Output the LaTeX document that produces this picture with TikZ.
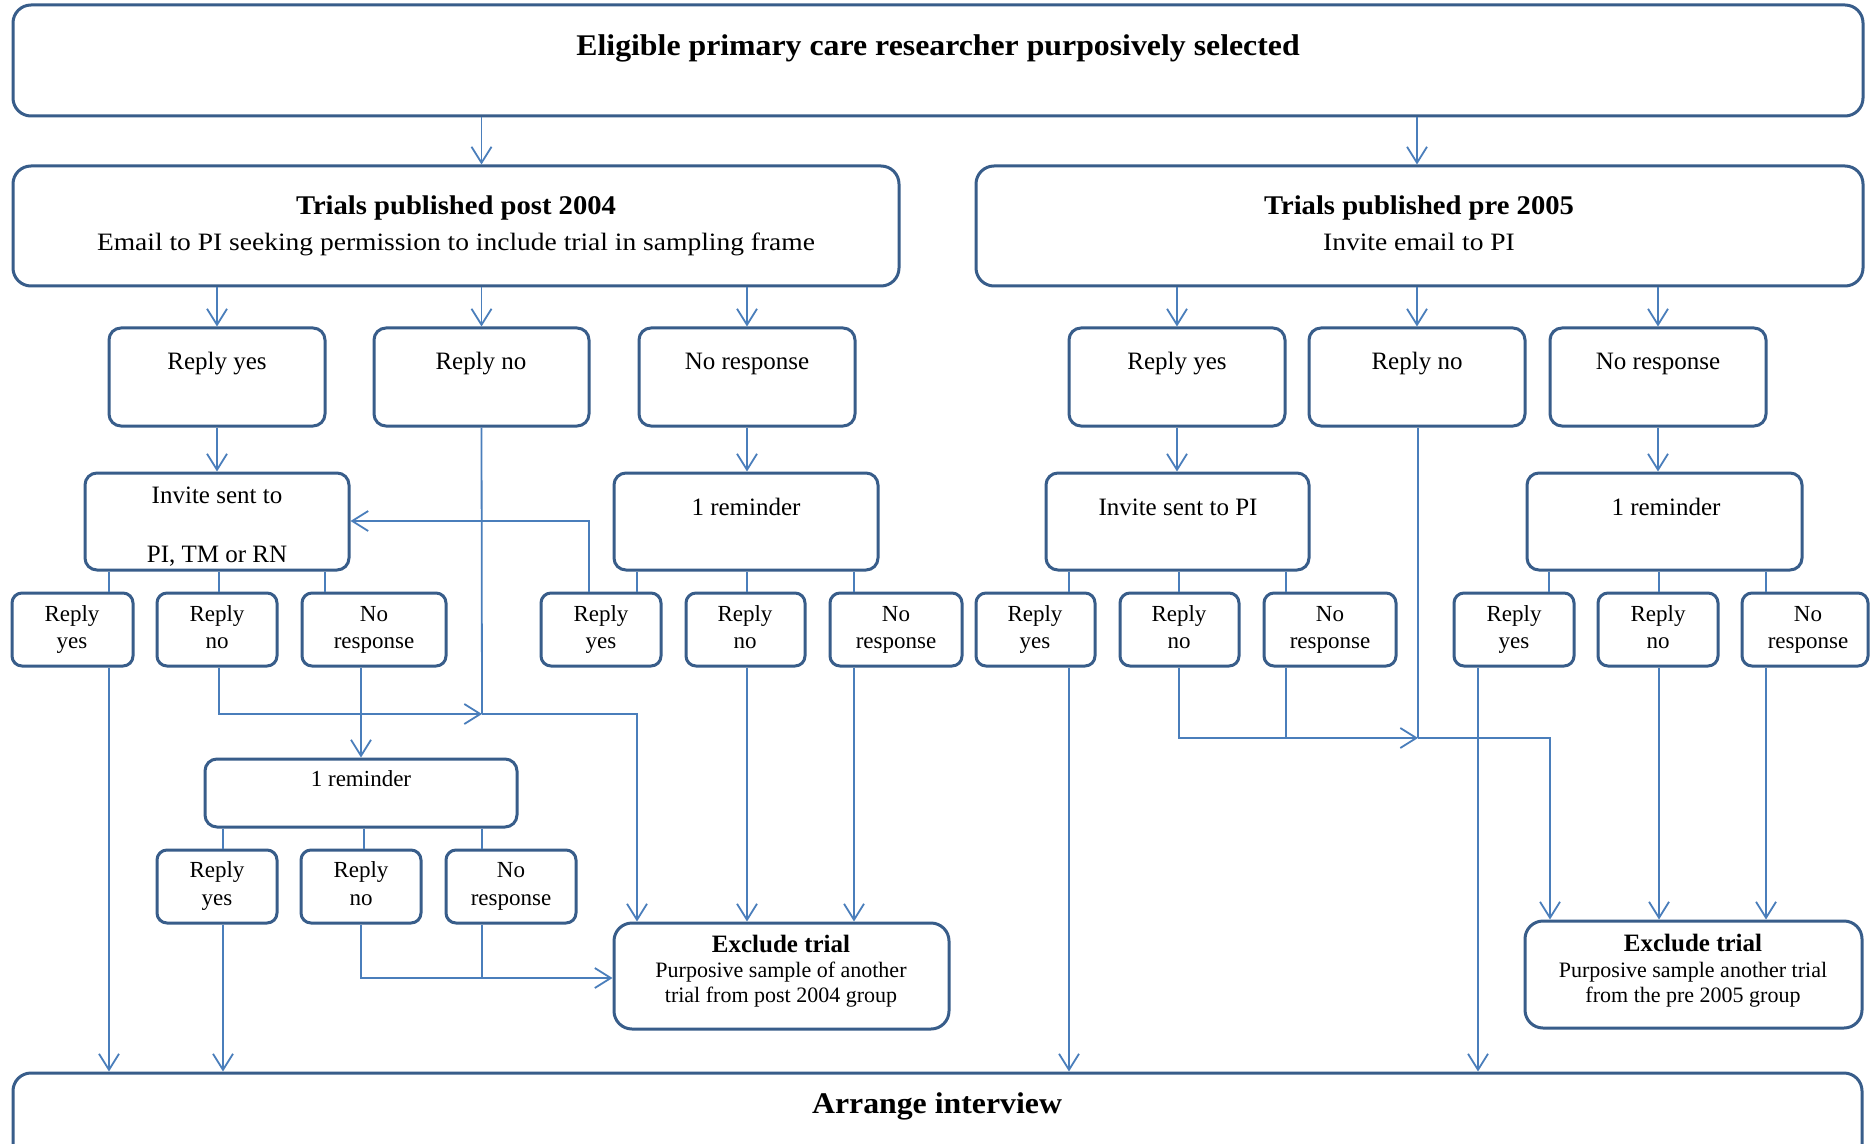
\documentclass[tikz,border=0pt]{standalone}
\usepackage{fontspec}
\setmainfont{Liberation Serif}
\newfontfamily\subfont{Liberation Serif}[FakeStretch=1.1]
\newfontfamily\headfont{Liberation Serif}[FakeStretch=1.06]
\usetikzlibrary{arrows.meta}
\definecolor{boxc}{HTML}{385D8A}
\definecolor{linec}{HTML}{4A7EBB}
\newcommand{\mkbox}[6]{\node[#6, minimum width={((#4)-(#2))*0.5pt}, minimum height={((#5)-(#3))*0.5pt}] (#1) at ({((#2)+(#4))/2},{((#3)+(#5))/2}) {};}
\newcommand{\mktxt}[5]{\node[txt, font=#4] (#1) at (#2,#3) {#5};}
\newcommand{\fbig}{\headfont\fontsize{15}{18}\selectfont\bfseries}
\newcommand{\fhead}{\headfont\fontsize{13.5}{16}\selectfont\bfseries}
\newcommand{\fsub}{\subfont\fontsize{12.5}{15}\selectfont}
\newcommand{\fmid}{\fontsize{12.5}{15}\selectfont}
\newcommand{\fsml}{\fontsize{11.5}{14}\selectfont}
\newcommand{\fexh}{\fontsize{12.5}{15}\selectfont\bfseries}
\newcommand{\fexb}{\fontsize{11}{13}\selectfont}
\tikzset{
  bigbox/.style={draw=boxc, line width=1.5pt, rounded corners=9pt, inner sep=0pt},
  midbox/.style={bigbox, rounded corners=6pt},
  smallbox/.style={bigbox, rounded corners=5pt},
  txt/.style={anchor=base, inner sep=0pt},
  conn/.style={draw=linec, line width=0.9pt},
  arr/.style={conn, -{Straight Barb[length=8pt,width=10pt]}}
}
\begin{document}
\begin{tikzpicture}[x=0.5pt,y=-0.5pt]
\useasboundingbox[fill=white] (0,0) rectangle (1872,1144);
% column coordinates
\foreach \c in {109,219,223,325,361,364,482,589,637,747,854,1069,1179,1286,1418,1478,1549,1550,1659,1766}
  {\coordinate (c\c) at (\c,0);}
\coordinate (j1) at (482,714);
\coordinate (j3) at (482,978);
\coordinate (j4) at (1418,738);
\coordinate (r1) at (589,521);
\coordinate (y978) at (0,978);
% boxes
\mkbox{T}{13}{5}{1863}{116}{bigbox}
\mkbox{P}{13}{166}{899}{286}{bigbox}
\mkbox{R}{976}{166}{1863}{286}{bigbox}
\mkbox{PY}{109}{328}{325}{426}{midbox}
\mkbox{PN}{374}{328}{589}{426}{midbox}
\mkbox{PNR}{639}{328}{855}{426}{midbox}
\mkbox{RY}{1069}{328}{1285}{426}{midbox}
\mkbox{RN}{1309}{328}{1525}{426}{midbox}
\mkbox{RNR}{1550}{328}{1766}{426}{midbox}
\mkbox{PInv}{85}{473}{349}{570}{midbox}
\mkbox{PRem}{614}{473}{878}{570}{midbox}
\mkbox{RInv}{1046}{473}{1309}{570}{midbox}
\mkbox{RRem}{1527}{473}{1802}{570}{midbox}
\mkbox{s1}{12}{593}{133}{666}{smallbox}
\mkbox{s2}{157}{593}{277}{666}{smallbox}
\mkbox{s3}{302}{593}{446}{666}{smallbox}
\mkbox{s4}{541}{593}{661}{666}{smallbox}
\mkbox{s5}{686}{593}{805}{666}{smallbox}
\mkbox{s6}{830}{593}{962}{666}{smallbox}
\mkbox{s7}{976}{593}{1095}{666}{smallbox}
\mkbox{s8}{1120}{593}{1239}{666}{smallbox}
\mkbox{s9}{1264}{593}{1396}{666}{smallbox}
\mkbox{s10}{1454}{593}{1574}{666}{smallbox}
\mkbox{s11}{1598}{593}{1718}{666}{smallbox}
\mkbox{s12}{1742}{593}{1868}{666}{smallbox}
\mkbox{LRem}{205}{759}{517}{827}{midbox}
\mkbox{t1}{157}{850}{277}{923}{smallbox}
\mkbox{t2}{301}{850}{421}{923}{smallbox}
\mkbox{t3}{446}{850}{576}{923}{smallbox}
\mkbox{PEx}{614}{923}{949}{1029}{bigbox}
\mkbox{REx}{1525}{921}{1862}{1028}{bigbox}
\mkbox{Arr}{13}{1073}{1862}{1200}{bigbox}
% texts
\mktxt{Tt}{938}{56}{\fbig}{Eligible primary care researcher purposively selected}
\mktxt{Pt1}{456}{215}{\fhead}{Trials published post 2004}
\mktxt{Pt2}{456}{251}{\fsub}{Email to PI seeking permission to include trial in sampling frame}
\mktxt{Rt1}{1419}{215}{\fhead}{Trials published pre 2005}
\mktxt{Rt2}{1419}{251}{\fsub}{Invite email to PI}
\mktxt{PYt}{217}{370}{\fmid}{Reply yes}
\mktxt{PNt}{481}{370}{\fmid}{Reply no}
\mktxt{PNRt}{747}{370}{\fmid}{No response}
\mktxt{RYt}{1177}{370}{\fmid}{Reply yes}
\mktxt{RNt}{1417}{370}{\fmid}{Reply no}
\mktxt{RNRt}{1658}{370}{\fmid}{No response}
\mktxt{PInvt1}{217}{503}{\fmid}{Invite sent to}
\mktxt{PInvt2}{217}{562}{\fmid}{PI, TM or RN}
\mktxt{PRemt}{746}{515}{\fmid}{1 reminder}
\mktxt{RInvt}{1178}{515}{\fmid}{Invite sent to PI}
\mktxt{RRemt}{1666}{515}{\fmid}{1 reminder}
% small row 1
\mktxt{s1a}{72}{621}{\fsml}{Reply}\mktxt{s1b}{72}{648}{\fsml}{yes}
\mktxt{s2a}{217}{621}{\fsml}{Reply}\mktxt{s2b}{217}{648}{\fsml}{no}
\mktxt{s3a}{374}{621}{\fsml}{No}\mktxt{s3b}{374}{648}{\fsml}{response}
\mktxt{s4a}{601}{621}{\fsml}{Reply}\mktxt{s4b}{601}{648}{\fsml}{yes}
\mktxt{s5a}{745}{621}{\fsml}{Reply}\mktxt{s5b}{745}{648}{\fsml}{no}
\mktxt{s6a}{896}{621}{\fsml}{No}\mktxt{s6b}{896}{648}{\fsml}{response}
\mktxt{s7a}{1035}{621}{\fsml}{Reply}\mktxt{s7b}{1035}{648}{\fsml}{yes}
\mktxt{s8a}{1179}{621}{\fsml}{Reply}\mktxt{s8b}{1179}{648}{\fsml}{no}
\mktxt{s9a}{1330}{621}{\fsml}{No}\mktxt{s9b}{1330}{648}{\fsml}{response}
\mktxt{s10a}{1514}{621}{\fsml}{Reply}\mktxt{s10b}{1514}{648}{\fsml}{yes}
\mktxt{s11a}{1658}{621}{\fsml}{Reply}\mktxt{s11b}{1658}{648}{\fsml}{no}
\mktxt{s12a}{1808}{621}{\fsml}{No}\mktxt{s12b}{1808}{648}{\fsml}{response}
\mktxt{LRemt}{361}{786}{\fsml}{1 reminder}
\mktxt{t1a}{217}{877}{\fsml}{Reply}\mktxt{t1b}{217}{905}{\fsml}{yes}
\mktxt{t2a}{361}{877}{\fsml}{Reply}\mktxt{t2b}{361}{905}{\fsml}{no}
\mktxt{t3a}{511}{877}{\fsml}{No}\mktxt{t3b}{511}{905}{\fsml}{response}
\mktxt{PExa}{781}{952}{\fexh}{Exclude trial}
\mktxt{PExb}{781}{977}{\fexb}{Purposive sample of another}
\mktxt{PExc}{781}{1002}{\fexb}{trial from post 2004 group}
\mktxt{RExa}{1693}{951}{\fexh}{Exclude trial}
\mktxt{RExb}{1693}{977}{\fexb}{Purposive sample another trial}
\mktxt{RExc}{1693}{1002}{\fexb}{from the pre 2005 group}
\mktxt{Arrt}{937}{1113}{\fbig}{Arrange interview}
% connectors: top level
\draw[arr] (T.south -| PN.north) -- (P.north -| PN.north);
\draw[arr] (T.south -| RN.north) -- (R.north -| RN.north);
\draw[arr] (P.south -| PY.north) -- (PY.north);
\draw[arr] (P.south -| PN.north) -- (PN.north);
\draw[arr] (P.south -| PNR.north) -- (PNR.north);
\draw[arr] (R.south -| RY.north) -- (RY.north);
\draw[arr] (R.south -| RN.north) -- (RN.north);
\draw[arr] (R.south -| RNR.north) -- (RNR.north);
\draw[arr] (PY.south) -- (PInv.north -| PY.south);
\draw[arr] (PNR.south) -- (PRem.north -| PNR.south);
\draw[arr] (RY.south) -- (RInv.north -| RY.south);
\draw[arr] (RNR.south) -- (RRem.north -| RNR.south);
% row2 -> small row
\draw[conn] (PInv.south -| c109) -- (s1.north -| c109);
\draw[conn] (PInv.south -| c219) -- (s2.north -| c219);
\draw[conn] (PInv.south -| c325) -- (s3.north -| c325);
\draw[conn] (PRem.south -| c637) -- (s4.north -| c637);
\draw[conn] (PRem.south -| c747) -- (s5.north -| c747);
\draw[conn] (PRem.south -| c854) -- (s6.north -| c854);
\draw[conn] (RInv.south -| c1069) -- (s7.north -| c1069);
\draw[conn] (RInv.south -| c1179) -- (s8.north -| c1179);
\draw[conn] (RInv.south -| c1286) -- (s9.north -| c1286);
\draw[conn] (RRem.south -| c1549) -- (s10.north -| c1549);
\draw[conn] (RRem.south -| c1659) -- (s11.north -| c1659);
\draw[conn] (RRem.south -| c1766) -- (s12.north -| c1766);
% post side lower
\draw[arr] (s1.south -| c109) -- (Arr.north -| c109);
\draw[arr] (s2.south -| c219) |- (j1);
\draw[conn] (PN.south) -- (j1);
\draw[arr] (j1) -| (PEx.north -| c637);
\draw[arr] (s3.south -| c361) -- (LRem.north -| c361);
\draw[arr] (s4.north -| r1) |- (PInv.east |- r1);
\draw[arr] (s5.south -| c747) -- (PEx.north -| c747);
\draw[arr] (s6.south -| c854) -- (PEx.north -| c854);
\draw[conn] (LRem.south -| c223) -- (t1.north -| c223);
\draw[conn] (LRem.south -| c364) -- (t2.north -| c364);
\draw[conn] (LRem.south -| c482) -- (t3.north -| c482);
\draw[arr] (t1.south -| c223) -- (Arr.north -| c223);
\draw[arr] (t2.south -| c361) |- (PEx.west |- y978);
\draw[conn] (t3.south -| j3) -- (j3);
% pre side lower
\draw[arr] (s7.south -| c1069) -- (Arr.north -| c1069);
\draw[arr] (s8.south -| c1179) |- (j4);
\draw[conn] (s9.south -| c1286) -- (c1286 |- j4);
\draw[conn] (RN.south -| j4) -- (j4);
\draw[arr] (j4) -| (REx.north -| c1550);
\draw[arr] (s10.south -| c1478) -- (Arr.north -| c1478);
\draw[arr] (s11.south -| c1659) -- (REx.north -| c1659);
\draw[arr] (s12.south -| c1766) -- (REx.north -| c1766);
\end{tikzpicture}
\end{document}
